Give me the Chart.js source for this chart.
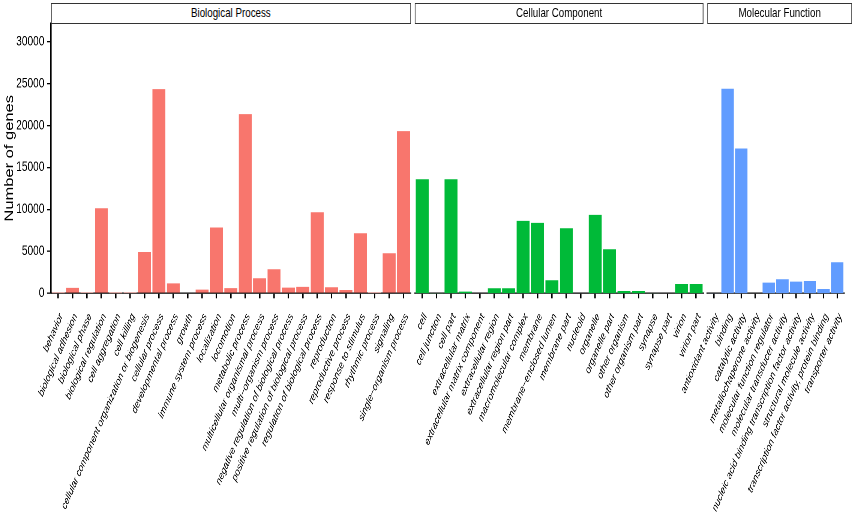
<!DOCTYPE html>
<html>
<head>
<meta charset="utf-8">
<script src="https://cdn.jsdelivr.net/npm/chart.js@4.4.0/dist/chart.umd.min.js"></script>
<style>
  html, body { margin: 0; padding: 0; background: #fff; overflow: hidden; }
  /* the picture is squeezed horizontally, so draw wide and scale it down */
  #stage { position: absolute; left: 0; top: 0; width: 1141px; height: 516px;
           transform: scaleX(0.75); transform-origin: 0 0; }
  #stage canvas { position: absolute; left: 0; top: 0; }
  .strip { position: absolute; top: 3px; height: 20.5px; box-sizing: border-box;
           border: 1.3px solid #333; border-left-width: 1.8px; border-right-width: 1.8px;
           background: #fff; color: #000; text-align: center;
           font: 13px "Liberation Sans", Arial, sans-serif; line-height: 18px; }
</style>
</head>
<body>
<div id="stage">
  <canvas id="bp" width="1141" height="516"></canvas>
  <canvas id="cc" width="1141" height="516"></canvas>
  <canvas id="mf" width="1141" height="516"></canvas>
  <div class="strip" style="left:68px;width:479.6px">Biological Process</div>
  <div class="strip" style="left:553.3px;width:384.4px">Cellular Component</div>
  <div class="strip" style="left:942.7px;width:193.7px">Molecular Function</div>
</div>
<script>
const bpLabels = ['behavior', 'biological adhesion', 'biological phase', 'biological regulation',
  'cell aggregation', 'cell killing', 'cellular component organization or biogenesis',
  'cellular process', 'developmental process', 'growth', 'immune system process',
  'localization', 'locomotion', 'metabolic process', 'multicellular organismal process',
  'multi−organism process', 'negative regulation of biological process',
  'positive regulation of biological process', 'regulation of biological process',
  'reproduction', 'reproductive process', 'response to stimulus', 'rhythmic process',
  'signaling', 'single−organism process'];
const bpCounts = [15, 640, 30, 10150, 5, 20, 4930, 24350, 1190, 80, 440,
  7840, 620, 21370, 1790, 2870, 680, 760, 9670, 720, 400, 7160, 20, 4780, 19340];

const ccLabels = ['cell', 'cell junction', 'cell part', 'extracellular matrix',
  'extracellular matrix component', 'extracellular region', 'extracellular region part',
  'macromolecular complex', 'membrane', 'membrane−enclosed lumen', 'membrane part',
  'nucleoid', 'organelle', 'organelle part', 'other organism', 'other organism part',
  'synapse', 'synapse part', 'virion', 'virion part'];
const ccCounts = [13600, 30, 13600, 200, 10, 600, 600, 8640, 8400, 1550, 7760,
  10, 9350, 5250, 280, 280, 20, 10, 1110, 1110];

const mfLabels = ['antioxidant activity', 'binding', 'catalytic activity',
  'metallochaperone activity', 'molecular function regulator',
  'molecular transducer activity', 'nucleic acid binding transcription factor activity',
  'structural molecule activity', 'transcription factor activity, protein binding',
  'transporter activity'];
const mfCounts = [20, 24390, 17270, 5, 1270, 1670, 1390, 1470, 520, 3700];

const yTicks = [0, 5000, 10000, 15000, 20000, 25000, 30000];
const yMax = 32200;

const family = '"Liberation Sans", Arial, sans-serif';
const W = 1141;

function panel(id, labels, counts, color, left, right, showY) {
  const yScale = {
    display: showY,
    min: 0,
    max: yMax,
    afterBuildTicks: function(s) {
      s.ticks = yTicks.map(function(v) { return { value: v }; });
    },
    grid: { drawOnChartArea: false, tickLength: 5.3, color: '#000', lineWidth: 1.3 },
    border: { color: '#000', width: 1.8 },
    ticks: {
      padding: 3.5, color: '#000', font: { family: family, size: 13.5 },
      callback: function(v) { return String(v); }
    },
    title: {
      display: showY, text: 'Number of genes', color: '#000',
      font: { family: family, size: 16.5 }, padding: { top: 3, bottom: 0 }
    }
  };
  if (showY) {
    yScale.afterFit = function(s) { s.width = 68; };
  }

  return new Chart(document.getElementById(id), {
    type: 'bar',
    data: {
      labels: labels,
      datasets: [{
        data: counts,
        backgroundColor: color,
        borderWidth: 0,
        barPercentage: 0.9,
        categoryPercentage: 1
      }]
    },
    options: {
      responsive: false,
      animation: false,
      devicePixelRatio: 2,
      layout: { padding: { left: left, right: right, top: 23.3, bottom: 0 } },
      plugins: { legend: { display: false }, tooltip: { enabled: false } },
      scales: {
        x: {
          offset: true,
          grid: { offset: false, drawOnChartArea: false, tickLength: 5, color: '#000', lineWidth: 1.8 },
          border: { color: '#000', width: 1.3 },
          ticks: {
            autoSkip: false, minRotation: 60, maxRotation: 60, padding: 13, labelOffset: 4,
            color: '#000', font: { family: family, size: 11, style: 'italic' }
          },
          afterFit: function(s) { s.height = 516 - 293.3; }
        },
        y: yScale
      }
    }
  });
}

panel('bp', bpLabels, bpCounts, '#F8766D', 0, W - 547.6, true);
panel('cc', ccLabels, ccCounts, '#00BA38', 553.3, W - 937.7, false);
panel('mf', mfLabels, mfCounts, '#619CFF', 942.7, W - 1136.4, false);
</script>
</body>
</html>
